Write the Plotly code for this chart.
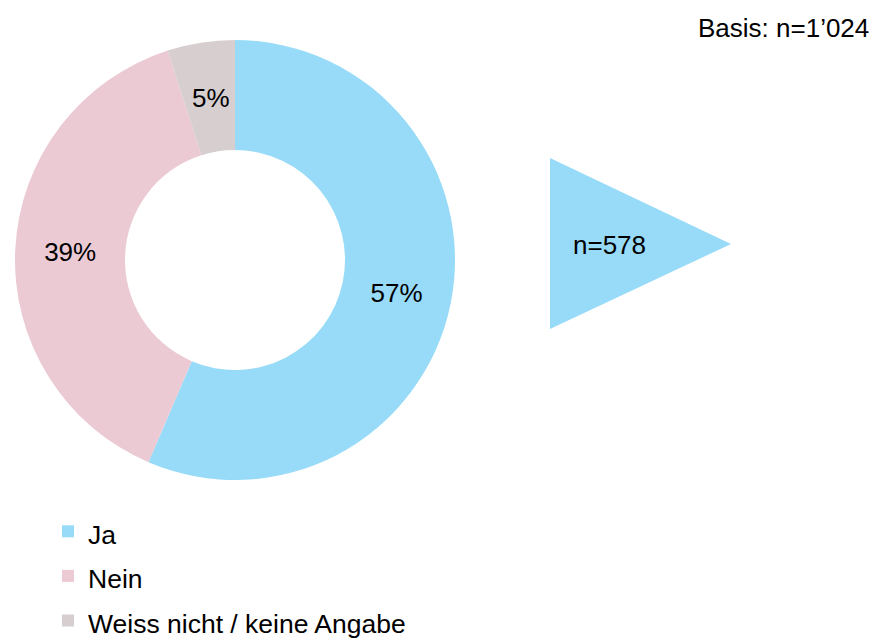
import plotly.graph_objects as go

categories = ["Ja", "Nein", "Weiss nicht / keine Angabe"]
values = [57, 39, 5]
value_labels = ["57%", "39%", "5%"]
colors = ["#98DBF8", "#EBCAD4", "#D6CECF"]
basis_label = "Basis: n=1\u2019024"
subgroup_label = "n=578"

# page has an 8px body margin; the figure is sized to fit the 877x639 window
OFF = 8
W, H = 877 - OFF, 639 - OFF
FONT = "Arial, Liberation Sans, sans-serif"

def px_x(x):
    return (x - OFF) / W

def px_y(y):
    return 1 - (y - OFF) / H

# small slice label is placed manually at mid-ring (plotly would push it outward)
pie_text = [value_labels[0], value_labels[1], ""]

fig = go.Figure()
fig.add_trace(go.Pie(
    labels=['<span style="font-size:26.5px">%s</span>' % c for c in categories],
    values=values,
    text=pie_text,
    textinfo="text",
    textposition="inside",
    insidetextorientation="horizontal",
    textfont=dict(family=FONT, size=26, color="#000000"),
    hole=0.5,
    sort=False,
    direction="clockwise",
    rotation=0,
    marker=dict(colors=colors, line=dict(width=0)),
    domain=dict(x=[px_x(15), px_x(455)], y=[px_y(480), px_y(40)]),
    hoverinfo="skip",
))

fig.add_annotation(
    x=px_x(211), y=px_y(98), xref="paper", yref="paper",
    text=value_labels[2], showarrow=False,
    font=dict(family=FONT, size=26, color="#000000"),
    xanchor="center", yanchor="middle",
)

fig.add_shape(
    type="path",
    xref="paper", yref="paper",
    path="M%f,%f L%f,%f L%f,%f Z" % (px_x(550), px_y(158), px_x(731), px_y(244), px_x(550), px_y(329)),
    fillcolor=colors[0],
    line=dict(width=0),
    layer="below",
)

fig.add_annotation(
    x=px_x(609), y=px_y(245), xref="paper", yref="paper",
    text=subgroup_label, showarrow=False,
    font=dict(family=FONT, size=26, color="#000000"),
    xanchor="center", yanchor="middle",
)

fig.add_annotation(
    x=px_x(871), y=px_y(28), xref="paper", yref="paper",
    text=basis_label, showarrow=False,
    font=dict(family=FONT, size=26, color="#000000"),
    xanchor="right", yanchor="middle",
)

fig.update_layout(
    width=W, height=H,
    margin=dict(l=0, r=0, t=0, b=0, autoexpand=False),
    paper_bgcolor="white",
    plot_bgcolor="white",
    showlegend=True,
    legend=dict(
        x=px_x(48), y=px_y(504), xanchor="left", yanchor="top",
        orientation="v",
        font=dict(family=FONT, size=32, color="#000000"),
        bgcolor="rgba(0,0,0,0)",
        itemclick=False, itemdoubleclick=False,
    ),
    font=dict(family=FONT, color="#000000"),
)

fig.write_html("out.html")
